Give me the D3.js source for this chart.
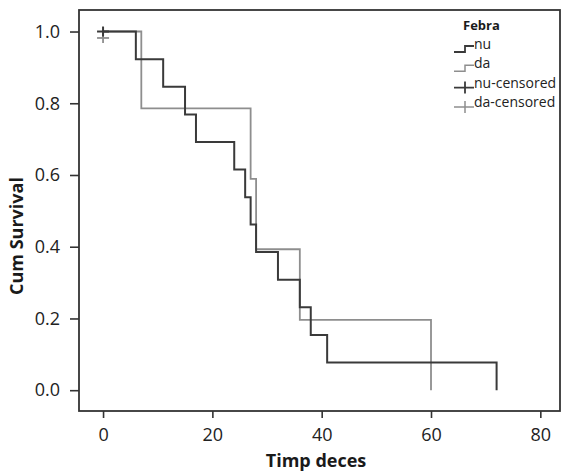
<!DOCTYPE html>
<html>
<head>
<meta charset="utf-8">
<script src="https://cdn.jsdelivr.net/npm/d3@7"></script>
<style>
  body { margin: 0; background: #fff; }
  svg { display: block; font-family: "Open Sans", sans-serif; }
</style>
</head>
<body>
<svg id="chart" width="566" height="475"></svg>
<script>
'use strict';

// Kaplan-Meier steps
var nuTime = [0, 6, 11, 15, 17, 24, 26, 27, 28, 32, 36, 38, 41, 72];
var nuSurv = [1, 0.923, 0.846, 0.769, 0.692, 0.615, 0.538, 0.462, 0.385, 0.308, 0.231, 0.154, 0.077, 0];

var daTime = [0, 7, 27, 28, 36, 60];
var daSurv = [1, 0.786, 0.589, 0.393, 0.196, 0];

// censored marks
var nuCensTime = [0];
var nuCensSurv = [1];
var daCensTime = [0];
var daCensSurv = [0.982];

var xTicks = [0, 20, 40, 60, 80];
var yTicks = [0, 0.2, 0.4, 0.6, 0.8, 1.0];

var legendTitle = 'Febra';
var legendItems = ['nu', 'da', 'nu-censored', 'da-censored'];

var colormap = {
  'nu': '#3a3a3a',
  'da': '#8e8e8e'
};

function color(name) {
  return colormap[name] || '#ff0000';
}

var frame = { left: 79, right: 560, top: 10, bottom: 411 };

var svg = d3.select('#chart');

var x = d3.scaleLinear().domain([-4.4, 83.6]).range([frame.left, frame.right]);
var y = d3.scaleLinear().domain([-0.058, 1.06]).range([frame.bottom, frame.top]);

function zip(t, s) {
  return t.map(function (d, i) { return { t: d, s: s[i] }; });
}

// axes
var yAxis = d3.axisLeft(y)
  .tickValues(yTicks)
  .tickFormat(d3.format('.1f'))
  .tickSize(9)
  .tickSizeOuter(0)
  .tickPadding(10);

var xAxis = d3.axisBottom(x)
  .tickValues(xTicks)
  .tickSize(7)
  .tickSizeOuter(0)
  .tickPadding(10);

var gy = svg.append('g')
  .attr('transform', 'translate(' + frame.left + ',0)')
  .call(yAxis);
var gx = svg.append('g')
  .attr('transform', 'translate(0,' + frame.bottom + ')')
  .call(xAxis);

[gx, gy].forEach(function (g) {
  g.select('.domain').remove();
  g.selectAll('.tick line').attr('stroke', '#333').attr('stroke-width', 1.6);
  g.selectAll('.tick text')
    .attr('fill', '#222')
    .style('font-size', '18px')
    .style('font-family', '"Open Sans", sans-serif');
});

// frame
svg.append('rect')
  .attr('x', frame.left)
  .attr('y', frame.top)
  .attr('width', frame.right - frame.left)
  .attr('height', frame.bottom - frame.top)
  .attr('fill', 'none')
  .attr('stroke', '#333')
  .attr('stroke-width', 1.8);

// axis titles
svg.append('text')
  .attr('transform', 'translate(23,236) rotate(-90)')
  .attr('text-anchor', 'middle')
  .style('font-size', '18px')
  .style('font-weight', 'bold')
  .attr('fill', '#1a1a1a')
  .text('Cum Survival');

svg.append('text')
  .attr('x', 316)
  .attr('y', 467)
  .attr('text-anchor', 'middle')
  .style('font-size', '18px')
  .style('font-weight', 'bold')
  .attr('fill', '#1a1a1a')
  .text('Timp deces');

// survival curves
var line = d3.line()
  .x(function (d) { return x(d.t); })
  .y(function (d) { return y(d.s); })
  .curve(d3.curveStepAfter);

svg.append('path')
  .datum(zip(daTime, daSurv))
  .attr('d', line)
  .attr('fill', 'none')
  .attr('stroke', color('da'))
  .attr('stroke-width', 1.8);

svg.append('path')
  .datum(zip(nuTime, nuSurv))
  .attr('d', line)
  .attr('fill', 'none')
  .attr('stroke', color('nu'))
  .attr('stroke-width', 2);

function drawCensored(data, col, w) {
  var g = svg.append('g').selectAll('g').data(data).enter().append('g')
    .attr('transform', function (d) { return 'translate(' + x(d.t) + ',' + y(d.s) + ')'; });
  g.append('line').attr('x1', -6).attr('x2', 6).attr('y1', 0).attr('y2', 0)
    .attr('stroke', col).attr('stroke-width', w);
  g.append('line').attr('x1', 0).attr('x2', 0).attr('y1', -5).attr('y2', 5)
    .attr('stroke', col).attr('stroke-width', w);
}
drawCensored(zip(daCensTime, daCensSurv), color('da'), 1.8);
drawCensored(zip(nuCensTime, nuCensSurv), color('nu'), 2);

// legend
var leg = svg.append('g');
leg.append('text')
  .attr('x', 463).attr('y', 30)
  .style('font-size', '13px')
  .style('font-weight', 'bold')
  .attr('fill', '#1a1a1a')
  .text(legendTitle);

var legRows = leg.selectAll('.leg-row').data(legendItems).enter().append('g')
  .attr('class', 'leg-row')
  .attr('transform', function (d, i) { return 'translate(0,' + (49 + i * 19.3) + ')'; });

legRows.append('text')
  .attr('x', 474).attr('y', 0)
  .style('font-size', '14px')
  .attr('fill', '#222')
  .text(function (d) { return d; });

legRows.each(function (d) {
  var g = d3.select(this);
  var key = d.split('-')[0];
  var col = color(key);
  var w = key === 'nu' ? 1.8 : 1.5;
  if (d.indexOf('censored') < 0) {
    g.append('path')
      .attr('d', 'M454,3H465V-3H474')
      .attr('fill', 'none')
      .attr('stroke', col)
      .attr('stroke-width', w);
  } else {
    g.append('path')
      .attr('d', 'M454,0H474M465,-6V6')
      .attr('fill', 'none')
      .attr('stroke', col)
      .attr('stroke-width', w);
  }
});
</script>
</body>
</html>
